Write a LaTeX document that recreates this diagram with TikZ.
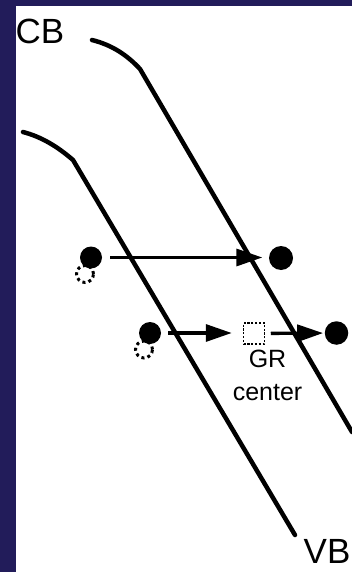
\documentclass[tikz,border=0pt]{standalone}
\usepackage{fontspec}
\setmainfont{Liberation Sans}
\usetikzlibrary{arrows.meta}
\definecolor{navy}{HTML}{221C5A}
\tikzset{
  band/.style={line width=4.5pt, line cap=round, line join=round},
  electron/.style={circle, fill=black, inner sep=0pt, minimum size=22pt},
  hole/.style={circle, draw=black, line width=3pt, dash pattern=on 3pt off 3.2pt, inner sep=0pt, minimum size=17pt},
  grbox/.style={rectangle, draw=black, line width=1.5pt, dash pattern=on 2.2pt off 1.6pt, inner sep=0pt, minimum size=21pt},
  move/.style={line width=3.3pt, -{Triangle[length=26pt,width=17pt]}},
  bandlabel/.style={font=\fontsize{35}{40}\selectfont, inner sep=0pt, anchor=base west},
  grlabel/.style={font=\fontsize{25}{33}\selectfont, align=center, inner sep=0pt, anchor=base}
}
\begin{document}
\begin{tikzpicture}[x=1pt, y=-1pt]
\useasboundingbox (0,0) rectangle (352,572);
\clip (0,0) rectangle (352,572);
\fill[navy] (0,0) rectangle (352,572);
\fill[white] (16,6) rectangle (352,572);
% band edges
\draw[band] (92,40) .. controls (112,45) and (127,55) .. (140,69) -- (352,432);
\draw[band] (23,132) .. controls (42,137) and (58,147) .. (73,160) -- (295,535);
% labels
\node[bandlabel] (cb) at (15.5,43.3) {CB};
\node[bandlabel] (vb) at (303.5,563) {VB};
% upper transition
\node[hole] (h1) at (85,274) {};
\node[electron] (e1) at (91,257.5) {};
\node[electron, minimum size=24pt] (f1) at (281,258) {};
\draw[move, shorten <=8pt, shorten >=6.5pt] (e1) -- (f1.west |- e1);
% lower transition
\node[hole] (h2) at (144,349.5) {};
\node[electron] (e2) at (150,333) {};
\node[grbox] (gr) at (254,333.5) {};
\node[electron, minimum size=23.5pt] (f2) at (336.5,333) {};
\draw[move, shorten <=7pt, shorten >=11pt] (e2) -- (gr.west |- e2);
\draw[move, shorten <=5.5pt, shorten >=1.5pt] (gr) -- (f2);
\node[grlabel] (grl) at (267.5,400) {GR\\center};
\end{tikzpicture}
\end{document}
